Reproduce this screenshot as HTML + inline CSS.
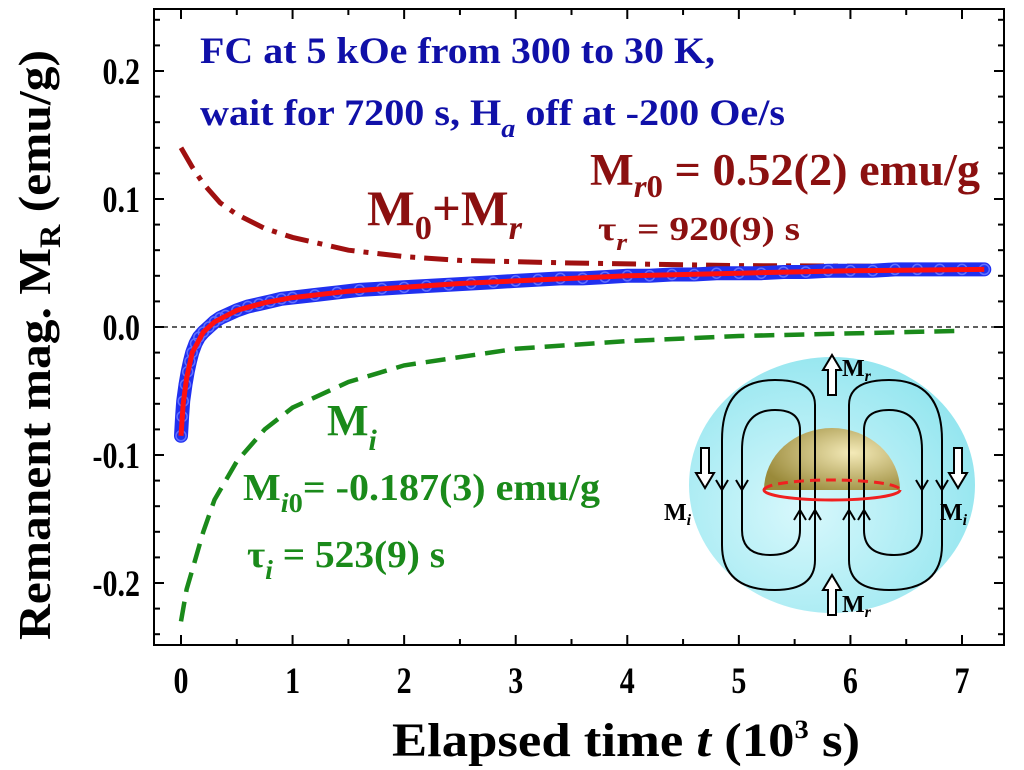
<!DOCTYPE html>
<html><head><meta charset="utf-8"><style>
body{margin:0;background:#fff}
svg{display:block}
text{font-family:"Liberation Serif",serif;font-weight:bold}
</style></head><body>
<svg id="c" width="1024" height="770">
<g id="plot"></g>
</svg>
<script>
const NS="http://www.w3.org/2000/svg";
const svg=document.getElementById('c');
const plot=document.getElementById('plot');
// data
const xTicks=[0,1,2,3,4,5,6,7];
const yTicks=[-0.2,-0.1,0.0,0.1,0.2];
const yTickLabels=["-0.2","-0.1","0.0","0.1","0.2"];
const tMi=[0,0.05,0.1,0.2,0.3,0.5,0.75,1,1.5,2,3,4,5,6,7];
const vMi=[-0.23,-0.205,-0.19,-0.16,-0.135,-0.105,-0.08,-0.063,-0.043,-0.03,-0.017,-0.011,-0.007,-0.005,-0.003];
const tM0=[0,0.1,0.2,0.35,0.5,0.75,1,1.5,2,2.5,3.5,5,7];
const vM0=[0.14,0.125,0.112,0.097,0.088,0.077,0.07,0.06,0.055,0.052,0.05,0.048,0.047];
const tFit=[0,0.02,0.05,0.1,0.2,0.3,0.5,0.75,1,1.5,2,2.5,3,3.5,4,5,6,7.2];
const vFit=[-0.085,-0.06,-0.04,-0.02,-0.004,0.004,0.013,0.019,0.023,0.028,0.031,0.034,0.036,0.038,0.04,0.042,0.044,0.045];
const tObs=[0,0.01,0.02,0.04,0.06,0.08,0.1,0.13,0.16,0.2,0.25,0.3,0.35,0.4,0.5,0.6,0.7,0.8,0.9,1,1.2,1.4,1.6,1.8,2,2.2,2.4,2.6,2.8,3,3.2,3.4,3.6,3.8,4,4.2,4.4,4.6,4.8,5,5.2,5.4,5.6,5.8,6,6.2,6.4,6.6,6.8,7,7.2];
const vObs=[-0.085,-0.07,-0.058,-0.045,-0.035,-0.027,-0.02,-0.013,-0.008,-0.004,0.0,0.004,0.007,0.009,0.013,0.016,0.018,0.020,0.022,0.023,0.025,0.027,0.029,0.030,0.031,0.032,0.033,0.034,0.035,0.036,0.037,0.038,0.038,0.039,0.040,0.040,0.041,0.041,0.042,0.042,0.042,0.043,0.043,0.044,0.044,0.044,0.045,0.045,0.045,0.045,0.045];
const X=v=>181+v*(962-181)/7;
const Y=v=>327-v*1280;
function el(tag,attrs,parent){const e=document.createElementNS(NS,tag);for(const k in attrs)e.setAttribute(k,attrs[k]);(parent||plot).appendChild(e);return e;}
function path(ts,vs){return ts.map((t,i)=>(i?'L':'M')+X(t).toFixed(1)+','+Y(vs[i]).toFixed(1)).join(' ');}
let f=el('rect',{x:154,y:9,width:850,height:636,fill:'none',stroke:'#000','stroke-width':2});

let z=el('line',{x1:154,x2:1004,y1:Y(0),y2:Y(0),stroke:'#000','stroke-width':1.2,'stroke-dasharray':'5,4'});

for(let i=0;i<=14;i++){const v=i/2,L=i%2?6:10;
 el('line',{x1:X(v),x2:X(v),y1:645,y2:645-L,stroke:'#000','stroke-width':2});
 el('line',{x1:X(v),x2:X(v),y1:9,y2:9+L,stroke:'#000','stroke-width':2});}
xTicks.forEach(v=>{const t=el('text',{x:X(v),y:0,'font-size':30,'text-anchor':'middle',transform:'translate(0,693) scale(1,1.25)'});t.textContent=v;
 });
for(let i=-12;i<=12;i++){const v=i*0.02;if(Y(v)<9||Y(v)>645)continue;const L=i%5==0?10:6;
 el('line',{x1:154,x2:154+L,y1:Y(v),y2:Y(v),stroke:'#000','stroke-width':2});
 el('line',{x1:1004,x2:1004-L,y1:Y(v),y2:Y(v),stroke:'#000','stroke-width':2});}
yTicks.forEach((v,i)=>{const t=el('text',{x:140,y:0,'font-size':30,'text-anchor':'end',transform:'translate(0,'+(Y(v)+13)+') scale(1,1.25)'});t.textContent=yTickLabels[i];
 });
let xt=el('text',{x:392,y:756,'font-size':48,textLength:468,lengthAdjust:'spacingAndGlyphs'},svg);
xt.innerHTML='Elapsed time <tspan font-style="italic">t</tspan> (10<tspan dy="-18" font-size="26">3</tspan><tspan dy="18">  s)</tspan>';

let yt=el('text',{transform:'translate(50,640) rotate(-90)','font-size':46,textLength:590,lengthAdjust:'spacingAndGlyphs'},svg);
yt.innerHTML='Remanent mag. M<tspan dy="10" font-size="30">R</tspan><tspan dy="-10"> (emu/g)</tspan>';

// inset
const ins=el('g',{},svg);
ins.innerHTML=`<defs><radialGradient id="sg" cx="0.4" cy="0.6" r="0.7"><stop offset="0" stop-color="#d8f8fc"/><stop offset="1" stop-color="#8ee4ee"/></radialGradient>
<radialGradient id="gg" cx="0.65" cy="0.4" r="0.7"><stop offset="0" stop-color="#f4eab8"/><stop offset="1" stop-color="#9a8a3a"/></radialGradient></defs>
<ellipse cx="832" cy="485" rx="143" ry="128" fill="url(#sg)"/>
<path d="M764,490 A68,62 0 0 1 900,490 Z" fill="url(#gg)"/>
<g fill="none" stroke="#000" stroke-width="2">
<path d="M815,500 L815,405 Q815,380 775,380 Q722,380 722,440 L722,545 Q722,590 775,590 Q815,590 815,560 Z"/>
<path d="M800,500 L800,430 Q800,410 775,410 Q742,410 742,450 L742,530 Q742,555 770,555 Q800,555 800,530 Z"/>
<path d="M849,500 L849,405 Q849,380 889,380 Q942,380 942,440 L942,545 Q942,590 889,590 Q849,590 849,560 Z"/>
<path d="M864,500 L864,430 Q864,410 889,410 Q922,410 922,450 L922,530 Q922,555 894,555 Q864,555 864,530 Z"/>
<path d="M716,480 l6,10 l6,-10 M736,480 l6,10 l6,-10 M916,480 l6,10 l6,-10 M936,480 l6,10 l6,-10 M794,520 l6,-10 l6,10 M809,520 l6,-10 l6,10 M843,520 l6,-10 l6,10 M858,520 l6,-10 l6,10"/>
</g>
<path d="M764,490 A68,10 0 0 1 900,490" fill="none" stroke="#f02020" stroke-width="3" stroke-dasharray="10,6"/>
<path d="M764,490 A68,10 0 0 0 900,490" fill="none" stroke="#f02020" stroke-width="3"/>
<g fill="#fff" stroke="#000" stroke-width="2">
<path d="M828,395 v-25 h-5 l9,-15 l9,15 h-5 v25z"/><path d="M828,615 v-25 h-5 l9,-15 l9,15 h-5 v25z"/>
<path d="M701,448 v25 h-5 l9,15 l9,-15 h-5 v-25z"/><path d="M954,448 v25 h-5 l9,15 l9,-15 h-5 v-25z"/></g>
<text x="842" y="376" font-size="24">M<tspan font-size="16" font-style="italic" dy="5">r</tspan></text>
<text x="842" y="612" font-size="24">M<tspan font-size="16" font-style="italic" dy="5">r</tspan></text>
<text x="664" y="520" font-size="24">M<tspan font-size="16" font-style="italic" dy="5">i</tspan></text>
<text x="940" y="520" font-size="24">M<tspan font-size="16" font-style="italic" dy="5">i</tspan></text>`;
// series
let mi=el('path',{d:path(tMi,vMi),fill:'none',stroke:'#1a8a1a','stroke-width':4.5,'stroke-dasharray':'20,10'});

let m0=el('path',{d:path(tM0,vM0),fill:'none',stroke:'#a01010','stroke-width':5,'stroke-dasharray':'24,9,5,9'});

let band=el('path',{d:path(tObs,vObs),fill:'none',stroke:'#2030f0','stroke-width':14,'stroke-linecap':'round'});

tObs.forEach((t,i)=>{const c=el('circle',{cx:X(t),cy:Y(vObs[i]),r:5,fill:'none',stroke:'#6070ff','stroke-width':1.5});
 });
let fit=el('path',{d:path(tFit,vFit),fill:'none',stroke:'#ff1010','stroke-width':5});

// annotations
const ann=el('g',{},svg);
ann.innerHTML=`<text x="200" y="63" font-size="37" fill="#1010a8" textLength="515" lengthAdjust="spacingAndGlyphs">FC at 5 kOe from 300 to 30 K,</text>
<text x="200" y="125" font-size="37" fill="#1010a8" textLength="585" lengthAdjust="spacingAndGlyphs">wait for 7200 s, H<tspan font-style="italic" dy="12" font-size="26">a</tspan><tspan dy="-12"> off at -200 Oe/s</tspan></text>
<text x="367" y="225" font-size="50" fill="#8b1010" textLength="155" lengthAdjust="spacingAndGlyphs">M<tspan dy="14" font-size="34">0</tspan><tspan dy="-14">+M</tspan><tspan dy="14" font-size="34" font-style="italic">r</tspan></text>
<text x="590" y="185" font-size="45" fill="#8b1010" textLength="390" lengthAdjust="spacingAndGlyphs">M<tspan dy="12" font-size="32"><tspan font-style="italic">r</tspan>0</tspan><tspan dy="-12"> = 0.52(2) emu/g</tspan></text>
<text x="598" y="240" font-size="34" fill="#8b1010" textLength="202" lengthAdjust="spacingAndGlyphs">τ<tspan dy="10" font-size="24" font-style="italic">r</tspan><tspan dy="-10"> = 920(9) s</tspan></text>
<text x="327" y="435" font-size="44" fill="#1a8a1a">M<tspan dy="15" font-size="30" font-style="italic">i</tspan></text>
<text x="243" y="500" font-size="38" fill="#1a8a1a" textLength="357" lengthAdjust="spacingAndGlyphs">M<tspan dy="12" font-size="27"><tspan font-style="italic">i</tspan>0</tspan><tspan dy="-12">= -0.187(3) emu/g</tspan></text>
<text x="247" y="567" font-size="38" fill="#1a8a1a" textLength="198" lengthAdjust="spacingAndGlyphs">τ<tspan dy="12" font-size="27" font-style="italic">i</tspan><tspan dy="-12"> = 523(9) s</tspan></text>`;
</script>
</body></html>
